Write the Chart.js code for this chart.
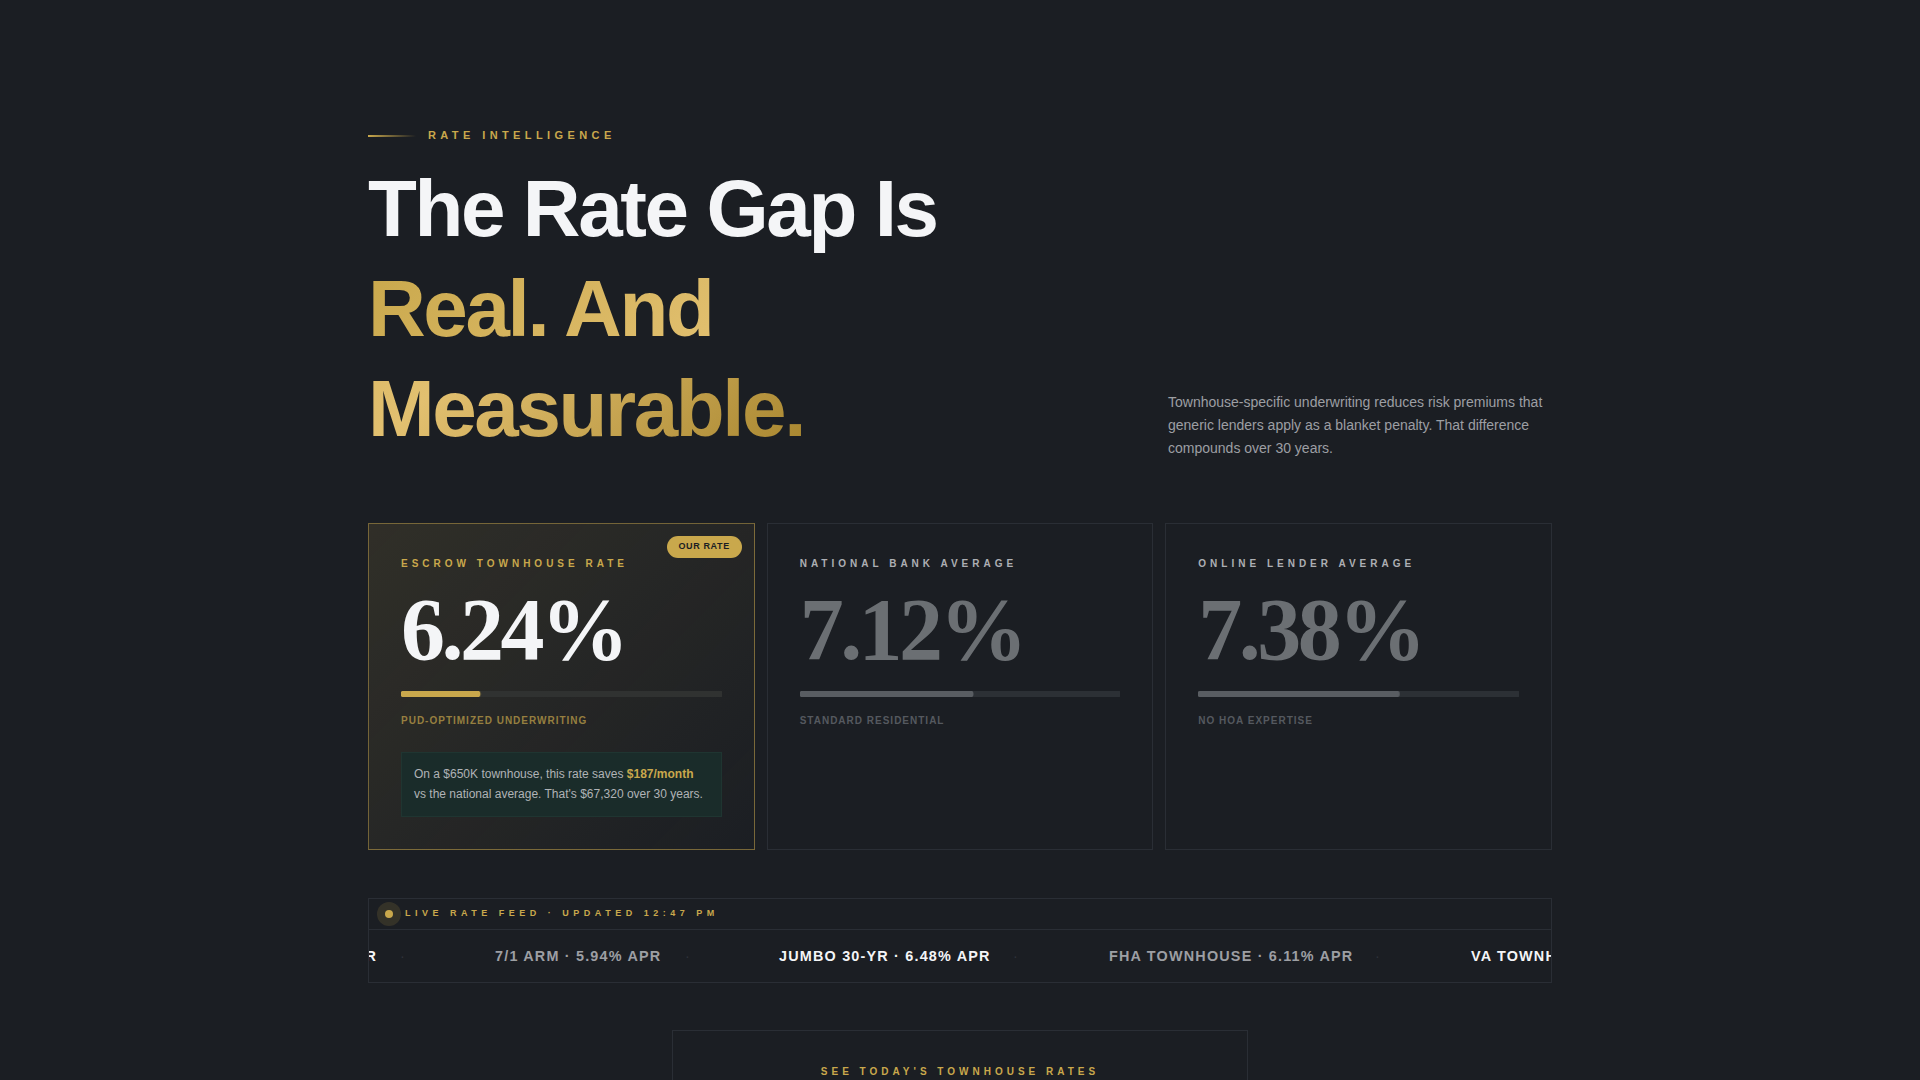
<!DOCTYPE html>
<html>
<head>
<meta charset="utf-8">
<title>Rate Gap</title>
<script src="https://cdn.jsdelivr.net/npm/chart.js@4"></script>
<style>
* { box-sizing: border-box; margin: 0; padding: 0; }
html, body { width: 1920px; height: 1080px; overflow: hidden; background: #1b1e23; font-family: "Liberation Sans", Arial, sans-serif; }
.abs { position: absolute; white-space: nowrap; }
.eyebrow-line { left: 368px; top: 135px; width: 48px; height: 2px; background: linear-gradient(90deg, #c9a84c, transparent); }
.eyebrow { left: 428px; top: 127px; line-height: 17px; font-size: 11px; font-weight: 700; letter-spacing: 0.4em; color: #c9a84c; }
h1 { left: 368px; top: 159px; font-size: 80px; line-height: 100px; font-weight: 700; letter-spacing: -0.03em; color: #f4f5f7; }
h1 span { background: linear-gradient(135deg, #c9a84c 0%, #e2c070 50%, #a8862f 100%); -webkit-background-clip: text; background-clip: text; color: transparent; }
.desc { left: 1168px; top: 391px; font-size: 14px; line-height: 23.2px; color: #9d9fa3; white-space: normal; width: 384px; }
.cards { position: absolute; left: 368px; top: 523px; width: 1184px; height: 327px; display: grid; grid-template-columns: repeat(3, 1fr); gap: 12px; }
.card { position: relative; border: 1px solid #2a2e35; }
.card.main { border-color: rgba(201,168,76,0.5); background: linear-gradient(135deg, rgba(201,168,76,0.12), rgba(201,168,76,0) 100%); }
.badge { position: absolute; right: 12px; top: 12px; width: 75px; height: 22px; line-height: 21px; text-align: center; border-radius: 11px; background: #c9a84c; color: #1b1e23; font-size: 9px; font-weight: 700; letter-spacing: 0.07em; }
.label { position: absolute; left: 32px; top: 32px; line-height: 16px; font-size: 10px; font-weight: 700; letter-spacing: 0.4em; color: #adafb3; white-space: nowrap; }
.main .label { color: #c9a84c; }
.num { position: absolute; left: 32px; top: 61px; line-height: 90px; font-family: "Liberation Serif", serif; font-size: 88px; font-weight: 700; letter-spacing: -0.04em; color: #6b6f73; }
.main .num { color: #f4f5f7; }
.bar { position: absolute; left: 32px; right: 32px; top: 167px; height: 6px; }
.sub { position: absolute; left: 32px; top: 189px; line-height: 16px; font-size: 10px; font-weight: 700; letter-spacing: 0.1em; color: #55595f; white-space: nowrap; }
.main .sub { color: rgba(201,168,76,0.7); }
.note { position: absolute; left: 32px; right: 32px; top: 228px; height: 65px; padding: 11px 12px; background: #1a2c2a; border: 1px solid #1f3531; font-size: 12px; line-height: 20px; color: #b0b3b6; white-space: nowrap; }
.note b { color: #c9a84c; }
.feed { position: absolute; left: 368px; top: 898px; width: 1184px; height: 85px; border: 1px solid #2a2e35; overflow: hidden; }
.feed-head { position: absolute; left: 0; right: 0; top: 0; height: 31px; border-bottom: 1px solid #2a2e35; }
.halo { position: absolute; left: 8px; top: 3px; width: 24px; height: 24px; border-radius: 50%; background: rgba(201,168,76,0.15); }
.dot { position: absolute; left: 16px; top: 11px; width: 8px; height: 8px; border-radius: 50%; background: #c9a84c; }
.feed-title { position: absolute; left: 36px; top: 6px; line-height: 16px; font-size: 9px; font-weight: 700; letter-spacing: 0.5em; color: #c9a84c; white-space: nowrap; }
.ticks { position: absolute; top: 47px; left: 0; height: 20px; }
.tick { position: absolute; top: 0; line-height: 20px; font-size: 14.4px; font-weight: 700; letter-spacing: 0.083em; white-space: nowrap; color: #f4f5f7; }
.tick.dim { color: #9d9fa3; }
.sep { position: absolute; top: 0; line-height: 20px; font-size: 14.4px; color: #2f333a; }
.cta { position: absolute; left: 672px; top: 1030px; width: 576px; height: 120px; border: 1px solid #2a2e35; text-align: center; padding-top: 33px; font-size: 10px; line-height: 16px; font-weight: 700; letter-spacing: 0.4em; color: #c9a84c; }
</style>
</head>
<body>
<div class="abs eyebrow-line"></div>
<div class="abs eyebrow">RATE INTELLIGENCE</div>
<h1 class="abs">The Rate Gap Is<br><span>Real. And<br>Measurable.</span></h1>
<div class="abs desc">Townhouse-specific underwriting reduces risk premiums that generic lenders apply as a blanket penalty. That difference compounds over 30 years.</div>
<div class="cards" id="cards"></div>
<div class="feed">
  <div class="feed-head">
    <div class="halo"></div><div class="dot"></div>
    <div class="feed-title">LIVE RATE FEED · UPDATED 12:47 PM</div>
  </div>
  <div class="ticks" id="ticks"></div>
</div>
<div class="cta">SEE TODAY'S TOWNHOUSE RATES</div>

<script>
const lenders = ['ESCROW TOWNHOUSE RATE', 'NATIONAL BANK AVERAGE', 'ONLINE LENDER AVERAGE'];
const rates = ['6.24%', '7.12%', '7.38%'];
const barFill = [24.6, 54, 62.6];
const barColors = ['#c9a84c', '#595d62', '#595d62'];
const subLabels = ['PUD-OPTIMIZED UNDERWRITING', 'STANDARD RESIDENTIAL', 'NO HOA EXPERTISE'];
const trackColors = ['#303231', '#2c3035', '#2c3035'];

const tickerItems = ['30-YR FIXED · 6.24% APR', '7/1 ARM · 5.94% APR', 'JUMBO 30-YR · 6.48% APR', 'FHA TOWNHOUSE · 6.11% APR', 'VA TOWNHOUSE · 5.89% APR'];
const tickerRight = [8, null, null, null, null];
const tickerLeft = [null, 126, 410, 740, 1102];
const sepLeft = [31, 316, 644, 1006];

const cardsEl = document.getElementById('cards');
lenders.forEach((name, i) => {
  const card = document.createElement('div');
  card.className = i === 0 ? 'card main' : 'card';
  card.innerHTML =
    (i === 0 ? '<div class="badge">OUR RATE</div>' : '') +
    '<div class="label">' + name + '</div>' +
    '<div class="num">' + rates[i] + '</div>' +
    '<div class="bar"><canvas></canvas></div>' +
    '<div class="sub">' + subLabels[i] + '</div>' +
    (i === 0 ? '<div class="note">On a $650K townhouse, this rate saves <b>$187/month</b><br>vs the national average. That\'s $67,320 over 30 years.</div>' : '');
  cardsEl.appendChild(card);

  new Chart(card.querySelector('canvas'), {
    type: 'bar',
    data: {
      labels: [name],
      datasets: [
        { data: [barFill[i]], backgroundColor: barColors[i], borderRadius: 3, borderSkipped: false, order: 1 },
        { data: [100], backgroundColor: trackColors[i], borderRadius: 3, borderSkipped: false, order: 2 }
      ]
    },
    options: {
      indexAxis: 'y',
      responsive: true,
      maintainAspectRatio: false,
      animation: false,
      layout: { padding: 0 },
      datasets: { bar: { grouped: false, barPercentage: 1, categoryPercentage: 1 } },
      scales: {
        x: { display: false, min: 0, max: 100 },
        y: { display: false }
      },
      plugins: { legend: { display: false }, tooltip: { enabled: false } }
    }
  });
});

const ticksEl = document.getElementById('ticks');
tickerItems.forEach((text, i) => {
  const el = document.createElement('div');
  el.className = i % 2 === 1 ? 'tick dim' : 'tick';
  el.textContent = text;
  if (tickerLeft[i] !== null) el.style.left = tickerLeft[i] + 'px';
  else el.style.right = (-tickerRight[i]) + 'px';
  ticksEl.appendChild(el);
});
sepLeft.forEach(x => {
  const el = document.createElement('div');
  el.className = 'sep';
  el.style.left = x + 'px';
  el.textContent = '·';
  ticksEl.appendChild(el);
});
</script>
</body>
</html>
